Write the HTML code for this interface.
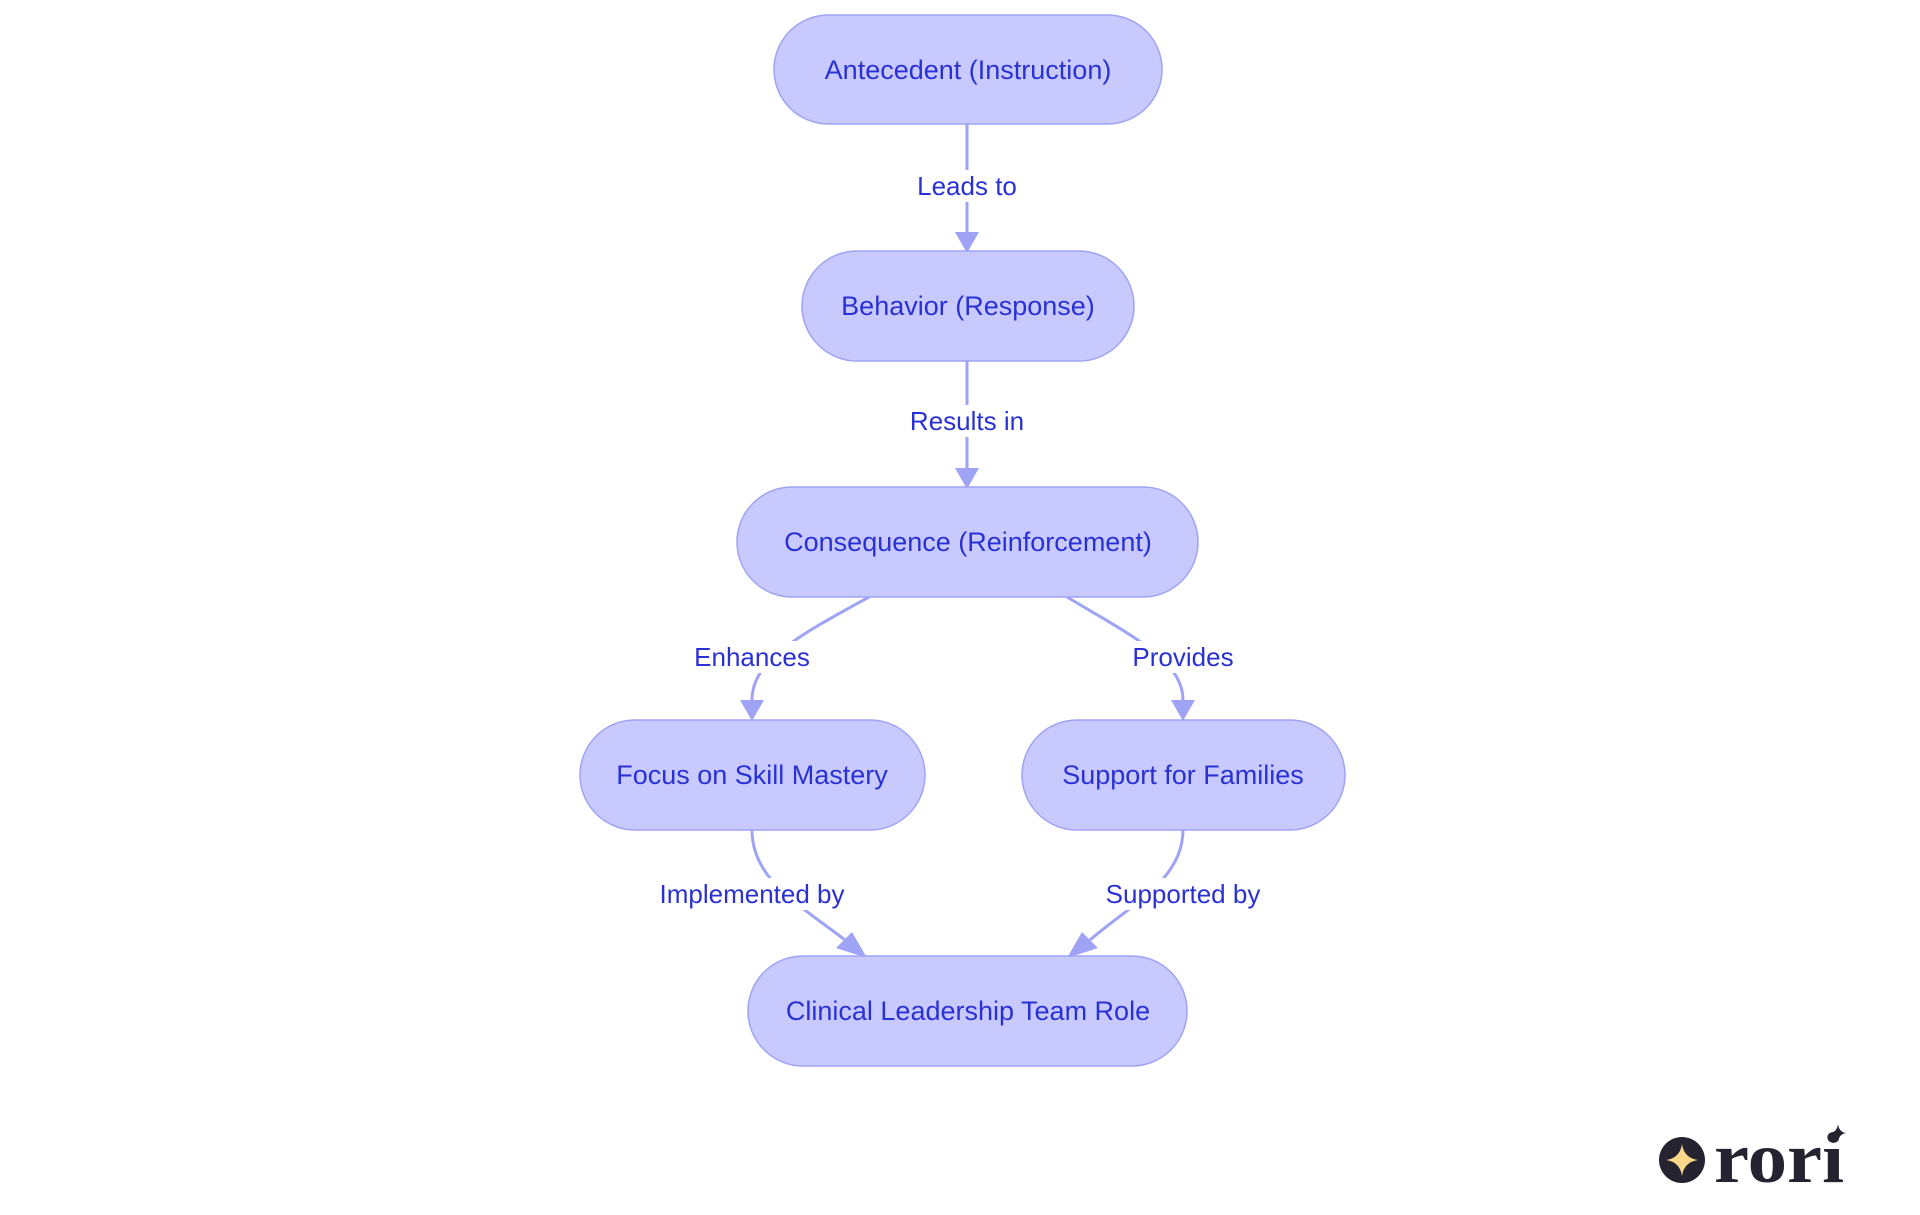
<!DOCTYPE html>
<html><head><meta charset="utf-8"><style>
html,body{margin:0;padding:0;background:#fff;width:1920px;height:1215px;overflow:hidden}
svg{display:block}
text{font-family:"Liberation Sans",sans-serif;fill:#2a31d4}
</style></head><body>
<svg width="1920" height="1215" viewBox="0 0 1920 1215">
<defs>
<marker id="a" markerWidth="10" markerHeight="10" refX="5" refY="9" orient="auto" markerUnits="userSpaceOnUse" viewBox="0 0 10 10">
</marker>
</defs>
<g fill="none" stroke="#9ea3f5" stroke-width="3">
<path d="M967,124 V232"/>
<path d="M967,361 V468"/>
<path d="M869,597 C800,635 752,660 752,700"/>
<path d="M1067,597 C1130,635 1183,660 1183,700"/>
<path d="M752,830 C752,880 800,905 845,940"/>
<path d="M1183,830 C1183,880 1130,905 1090,940"/>
</g>
<g fill="#9ea3f5">
<polygon points="955,232 979,232 967,253"/>
<polygon points="955,468 979,468 967,489"/>
<polygon points="740,700 764,700 752,721"/>
<polygon points="1171,700 1195,700 1183,721"/>
<polygon points="836,948 852,932 867,958"/>
<polygon points="1082,932 1098,948 1067,958"/>
</g>
<g fill="#fff">
<rect x="917" y="170" width="100" height="32"/>
<rect x="903" y="405" width="128" height="32"/>
<rect x="690" y="641" width="124" height="32"/>
<rect x="1131" y="641" width="106" height="32"/>
<rect x="653" y="878" width="200" height="32"/>
<rect x="1097" y="878" width="172" height="32"/>
</g>
<g font-size="26" text-anchor="middle">
<text x="967" y="195">Leads to</text>
<text x="967" y="430">Results in</text>
<text x="752" y="666">Enhances</text>
<text x="1183" y="666">Provides</text>
<text x="752" y="903">Implemented by</text>
<text x="1183" y="903">Supported by</text>
</g>
<g fill="#c8caff" stroke="#9fa3f3" stroke-width="1.5">
<rect x="774" y="15" width="388" height="109" rx="54.5"/>
<rect x="802" y="251" width="332" height="110" rx="55"/>
<rect x="737" y="487" width="461" height="110" rx="55"/>
<rect x="580" y="720" width="345" height="110" rx="55"/>
<rect x="1022" y="720" width="323" height="110" rx="55"/>
<rect x="748" y="956" width="439" height="110" rx="55"/>
</g>
<g font-size="27" text-anchor="middle">
<text x="968" y="79">Antecedent (Instruction)</text>
<text x="968" y="315">Behavior (Response)</text>
<text x="968" y="551">Consequence (Reinforcement)</text>
<text x="752" y="784">Focus on Skill Mastery</text>
<text x="1183" y="784">Support for Families</text>
<text x="968" y="1020">Clinical Leadership Team Role</text>
</g>
<circle cx="1682" cy="1160" r="23" fill="#25232f"/>
<path d="M1682,1144 Q1684,1158 1698,1160 Q1684,1162 1682,1176 Q1680,1162 1666,1160 Q1680,1158 1682,1144Z" fill="#fcd98a"/>
<text x="1714" y="1182" font-family="'Liberation Serif',serif" font-weight="bold" font-size="72" style="fill:#25232f;font-family:'Liberation Serif',serif" textLength="130" lengthAdjust="spacingAndGlyphs">rori</text>
<path d="M1838,1124 Q1839,1132 1846,1133 Q1839,1134 1838,1142 Q1837,1134 1830,1133 Q1837,1132 1838,1124Z" fill="#25232f"/>
</svg>
</body></html>
